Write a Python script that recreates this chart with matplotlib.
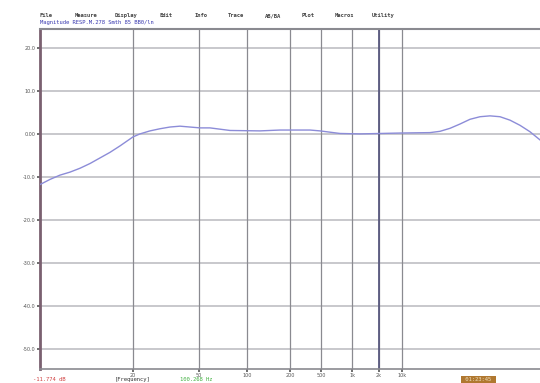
import matplotlib.pyplot as plt

# measured response (x in plot units along the frequency axis, level in dB)
x_pos = [0, 10, 20, 30, 40, 50, 60, 70, 80, 93, 100, 110, 120, 130, 140, 150, 160,
         170, 180, 190, 220, 240, 270, 280, 290, 300, 320, 360, 390, 400, 410, 420,
         430, 440, 450, 460, 470, 480, 490, 500]
level = [-11.8, -10.6, -9.6, -8.9, -8.0, -6.9, -5.6, -4.3, -2.8, -0.7, 0.0, 0.7,
         1.2, 1.6, 1.8, 1.6, 1.4, 1.4, 1.1, 0.8, 0.7, 0.9, 0.9, 0.7, 0.4, 0.1,
         0.0, 0.2, 0.3, 0.6, 1.3, 2.3, 3.4, 4.0, 4.2, 4.0, 3.2, 2.0, 0.5, -1.4]

grid_x = [93, 159, 207, 250, 281, 312, 339, 362]
grid_x_labels = ["20", "50", "100", "200", "500", "1k", "2k", "10k"]
grid_y = [20, 10, 0, -10, -20, -30, -40, -50]
grid_y_labels = ["20.0", "10.0", "0.00", "-10.0", "-20.0", "-30.0", "-40.0", "-50.0"]
cursor_x = 339

menu = ["File", "Measure", "Display", "Edit", "Info", "Trace", "AB/BA", "Plot", "Macros", "Utility"]
menu_x = [40, 75, 115, 160, 195, 228, 265, 302, 335, 372]

fig = plt.figure(figsize=(5.4, 3.83), dpi=100)
ax = fig.add_axes([0.074, 0.037, 0.926, 0.887])

ax.set_xlim(0, 500)
ax.set_ylim(-54.7, 24.4)

for gy in grid_y:
    ax.axhline(gy, color="#c8c8cc", lw=1.4, zorder=1)
for gx in grid_x:
    ax.axvline(gx, color="#8a8a90", lw=0.9, zorder=1)
ax.axvline(cursor_x, color="#5a5a80", lw=1.3, zorder=2)

ax.plot(x_pos, level, color="#8c8cd8", lw=1.0, zorder=3)

ax.set_xticks(grid_x)
ax.set_xticklabels(grid_x_labels)
ax.set_yticks(grid_y)
ax.set_yticklabels(grid_y_labels)
ax.tick_params(axis="both", labelsize=3.5, length=2, width=1.2, color="#555555",
               labelcolor="#555555", pad=1)

ax.spines["right"].set_visible(False)
ax.spines["left"].set_color("#7a6070")
ax.spines["left"].set_linewidth(2)
ax.spines["bottom"].set_color("#8a8a90")
ax.spines["bottom"].set_linewidth(1.2)
ax.spines["top"].set_color("#8a8a90")
ax.spines["top"].set_linewidth(1.5)

for name, mx in zip(menu, menu_x):
    fig.text(mx / 540, 1 - 17 / 383, name, fontsize=4, color="#444444",
             family="DejaVu Sans Mono", va="baseline", weight="bold")
fig.text(40 / 540, 1 - 24 / 383, "Magnitude RESP.M.278 Smth 85 BB0/ln",
         fontsize=4, color="#3a3ab0", family="DejaVu Sans Mono", va="baseline")

fig.text(33 / 540, 1 - 381 / 383, "-11.774 dB", fontsize=4, color="#d04040",
         family="DejaVu Sans Mono", va="baseline")
fig.text(115 / 540, 1 - 381 / 383, "[Frequency]", fontsize=4, color="#333333",
         family="DejaVu Sans Mono", va="baseline")
fig.text(180 / 540, 1 - 381 / 383, "100.268 Hz", fontsize=4, color="#40b040",
         family="DejaVu Sans Mono", va="baseline")
fig.text(462 / 540, 1 - 381 / 383, " 01:23:45 ", fontsize=4, color="#f0e0c0",
         family="DejaVu Sans Mono", va="baseline",
         bbox=dict(facecolor="#b07830", edgecolor="none", pad=0.8))

fig.savefig("out.png", dpi=100)
